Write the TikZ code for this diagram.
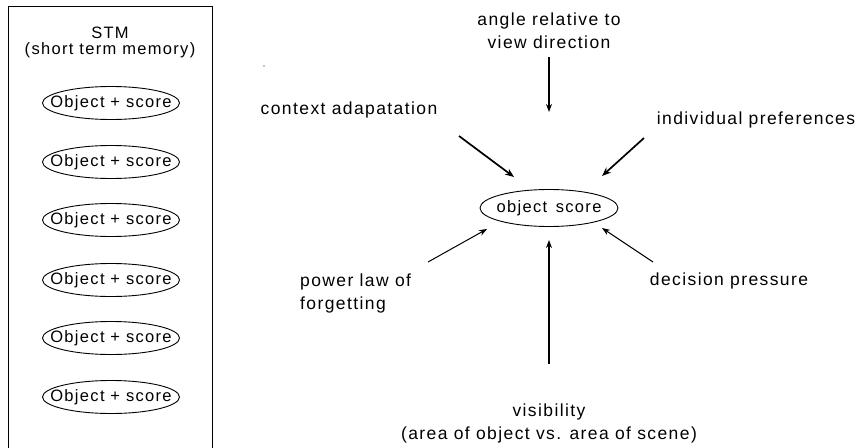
\documentclass[tikz,border=0pt]{standalone}
\usepackage{fontspec}
\setmainfont[LetterSpace=8]{Liberation Sans}
\usetikzlibrary{shapes.geometric,arrows.meta}
\begin{document}
\begin{tikzpicture}[x=1pt,y=-1pt,
  lbl/.style={font=\fontsize{17.5}{23}\selectfont, align=center, inner sep=0},
  objell/.style={draw, ellipse, line width=0.9pt, minimum width=137pt, minimum height=33pt, inner sep=-25pt, font=\fontsize{16.5}{18}\selectfont},
  arr/.style={-{Stealth[length=8pt,width=6pt]}, line width=1pt},
  arrb/.style={-{Stealth[length=9pt,width=7pt]}, line width=1.7pt}
]
\useasboundingbox (0,0) rectangle (859,447);
% STM box
\draw[line width=1pt] (8,460) -- (8,6) -- (212,6) -- (212,460);
\node[lbl, font=\fontsize{16.5}{16}\selectfont] (stm) at (110,42) {STM\\(short term memory)};
\foreach \i/\y in {1/103,2/162,3/220,4/280,5/338,6/397}{
  \node[objell] (o\i) at (111,\y) {Object + score};
}
\fill (264,66) circle (0.6pt);
% central
\node[objell, minimum width=138pt, minimum height=37pt] (os) at (549,208) {object\, score};
\node[lbl] (angle) at (549,31) {angle relative to\\view direction};
\node[lbl] (ctx) at (349,110) {context adapatation};
\node[lbl] (ind) at (756,120) {individual preferences};
\node[lbl, align=left, anchor=west] (pow) at (300,293) {power law of\\forgetting};
\node[lbl] (dec) at (729,281) {decision pressure};
\node[lbl] (vis) at (549,423) {visibility\\(area of object vs. area of scene)};
\coordinate (a1s) at (549,57);  \coordinate (a1e) at (549,112);
\coordinate (a2s) at (459,136); \coordinate (a2e) at (514,177);
\coordinate (a3s) at (644,138); \coordinate (a3e) at (602,176);
\coordinate (a4s) at (428,262); \coordinate (a4e) at (487,229);
\coordinate (a5s) at (549,364); \coordinate (a5e) at (549,240);
\coordinate (a6s) at (653,262); \coordinate (a6e) at (602,228);
\draw[arr, line width=1.3pt] (a1s) -- (a1e);
\draw[arrb] (a2s) -- (a2e);
\draw[arrb] (a3s) -- (a3e);
\draw[arr] (a4s) -- (a4e);
\draw[arr, line width=1.3pt] (a5s) -- (a5e);
\draw[arr] (a6s) -- (a6e);
\end{tikzpicture}
\end{document}
